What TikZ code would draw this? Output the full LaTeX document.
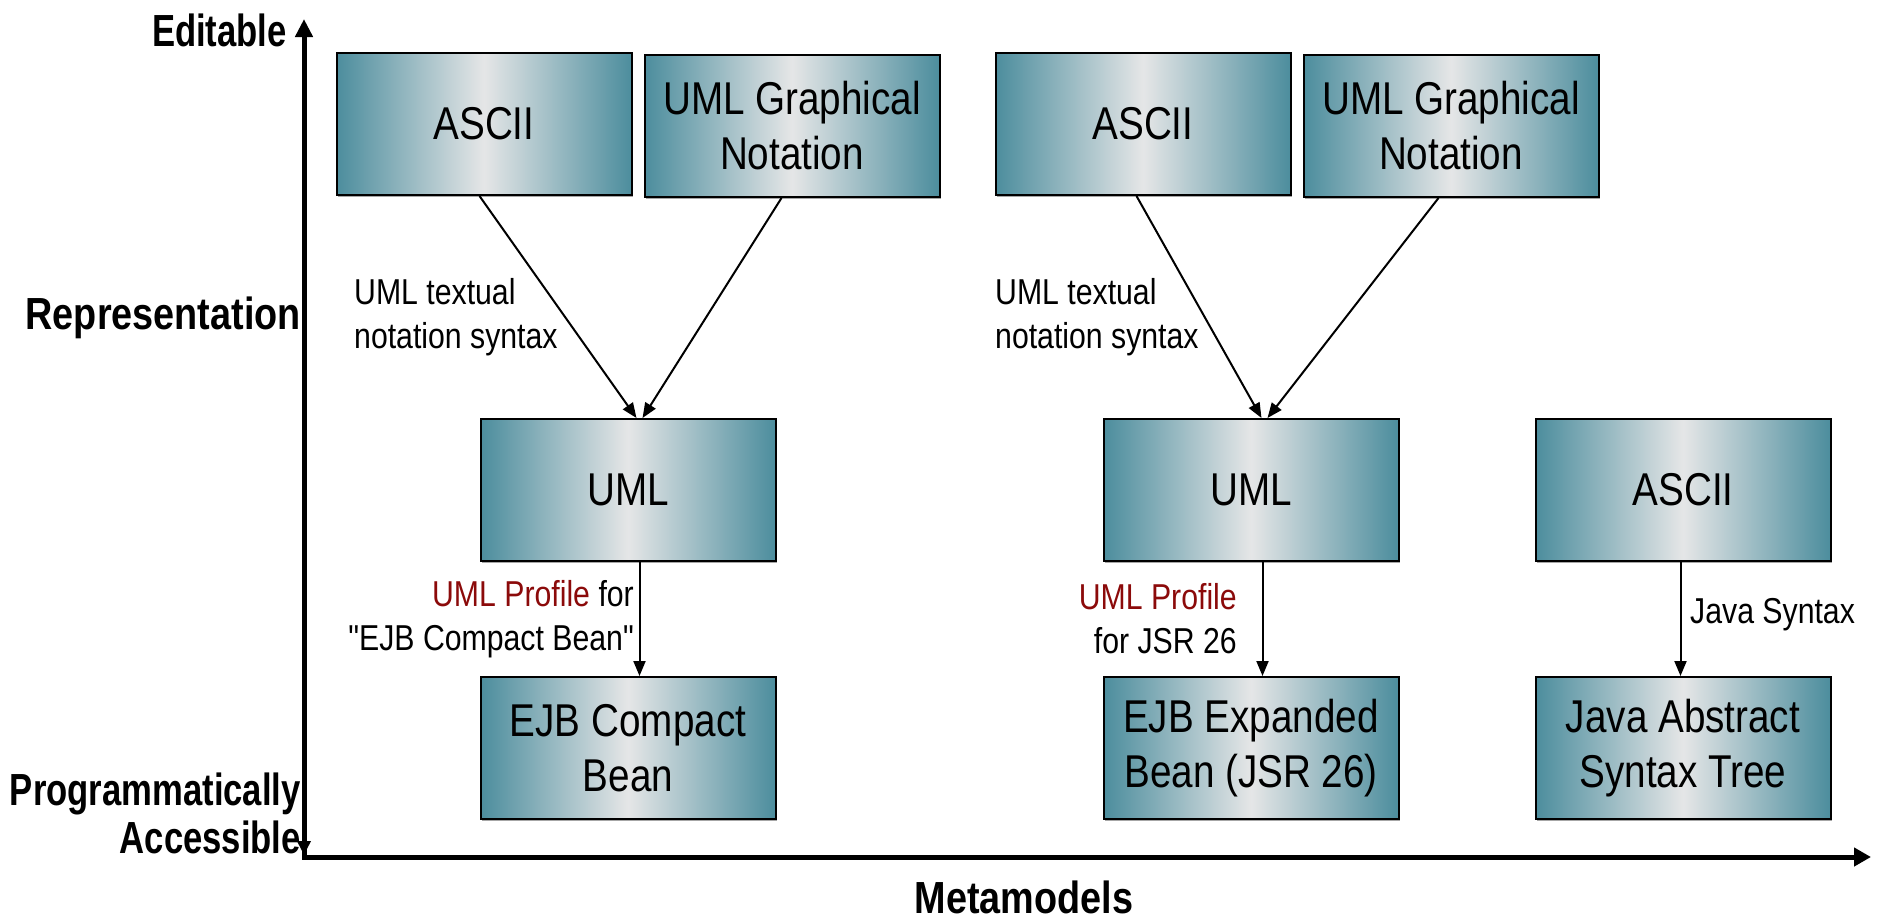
\documentclass[tikz,border=0pt]{standalone}
\usepackage{fontspec}
\setmainfont{Liberation Sans}[FakeStretch=0.84, Ligatures=TeXOff]
\newfontfamily\narrowsans{Liberation Sans}[FakeStretch=0.77, Ligatures=TeXOff]
\usetikzlibrary{calc,shadows,arrows.meta}

\definecolor{tealedge}{RGB}{76,141,157}
\definecolor{lightmid}{RGB}{229,230,231}
\definecolor{profred}{RGB}{139,10,10}

% horizontal teal -> light grey -> teal fill of the boxes
\pgfdeclarehorizontalshading{boxshade}{100bp}{%
  color(0bp)=(tealedge); color(25bp)=(tealedge);
  color(50bp)=(lightmid);
  color(75bp)=(tealedge); color(100bp)=(tealedge)}

\tikzset{
  mbox/.style={draw=black, line width=2pt, shading=boxshade,
    minimum width=295pt, minimum height=142pt, inner sep=0pt,
    align=center, font=\fontsize{46}{55}\selectfont,
    drop shadow={shadow xshift=1.5pt, shadow yshift=-2pt, fill=black!35, opacity=1}},
  flow/.style={draw=black, line width=2pt, -{Triangle[length=15pt,width=12pt]}},
  axisline/.style={draw=black, line width=5pt},
  lbl/.style={font=\fontsize{36}{44}\selectfont, inner sep=0pt},
  axlbl/.style={font=\fontsize{45}{48}\bfseries\selectfont, inner sep=0pt},
}

\begin{document}
\begin{tikzpicture}[x=1pt, y=-1pt]
\useasboundingbox (0,0) rectangle (1883,922);

% axes
\coordinate (ytop) at (304,19);
\coordinate (ybot) at (304,855);
\coordinate (xorg) at (302,857);
\coordinate (xend) at (1871,857);
\draw[axisline, -{Triangle[length=18pt,width=17pt]}] (ybot) -- (ytop);
\draw[axisline, -{Triangle[length=14pt,width=13pt]}] (304,830) -- (ybot);
\draw[axisline, -{Triangle[length=17pt,width=18pt]}] (xorg) -- (xend);

% axis captions
\node[axlbl, anchor=east, font=\fontsize{45}{48}\narrowsans\bfseries] (edit) at (287,30) {Editable};
\node[axlbl, anchor=east] (repr) at (301,318) {Representation};
\node[axlbl, anchor=east, align=right, font=\fontsize{45}{48}\narrowsans\bfseries] (prog) at (301,813) {Programmatically\\Accessible};
\node[axlbl] (meta) at (1024,897) {Metamodels};

% top row
\node[mbox] (a1) at (484,124) {ASCII};
\node[mbox] (g1) at (792,126) {UML Graphical\\Notation};
\node[mbox] (a2) at (1143,124) {ASCII};
\node[mbox] (g2) at (1451,126) {UML Graphical\\Notation};

% middle row
\node[mbox] (u1) at (628,490) {UML};
\node[mbox] (u2) at (1251,490) {UML};
\node[mbox] (a3) at (1683,490) {ASCII};

% bottom row
\node[mbox] (e1) at (628,748) {EJB Compact\\Bean};
\node[mbox] (e2) at (1251,748) {EJB Expanded\\Bean (JSR 26)};
\node[mbox] (jt) at (1683,748) {Java Abstract\\Syntax Tree};

% converging connectors
\draw[flow] ($(a1.south west)+(144,0)$) -- ($(u1.north west)+(157,0)$);
\draw[flow] ($(g1.south west)+(138,0)$) -- ($(u1.north west)+(163,0)$);
\draw[flow] ($(a2.south west)+(142,0)$) -- ($(u2.north west)+(159,0)$);
\draw[flow] ($(g2.south west)+(136,0)$) -- ($(u2.north west)+(165,0)$);

% downward connectors
\draw[flow] ($(u1.south west)+(160,0)$) -- ($(e1.north west)+(160,0)$);
\draw[flow] ($(u2.south west)+(160,0)$) -- ($(e2.north west)+(160,0)$);
\draw[flow] ($(a3.south west)+(146,0)$) -- ($(jt.north west)+(146,0)$);

% connector labels
\node[lbl, anchor=west, align=left] (t1) at (354,317) {UML textual\\notation syntax};
\node[lbl, anchor=west, align=left] (t2) at (995,317) {UML textual\\notation syntax};
\node[lbl, anchor=east, align=right] (p1) at (634,619) {\textcolor{profred}{UML Profile} for\\"EJB Compact Bean"};
\node[lbl, anchor=east, align=right] (p2) at (1237,619) {\textcolor{profred}{UML Profile}\\for JSR 26};
\node[lbl, anchor=west] (js) at (1690,615) {Java Syntax};
\end{tikzpicture}
\end{document}
